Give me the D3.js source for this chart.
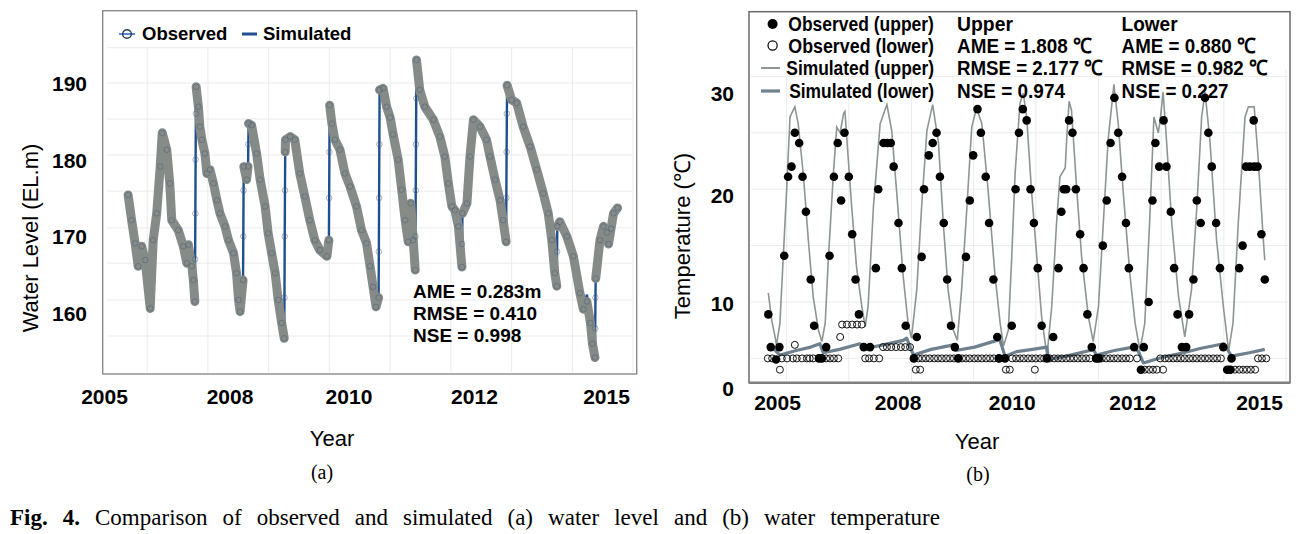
<!DOCTYPE html>
<html><head><meta charset="utf-8">
<script src="https://cdn.jsdelivr.net/npm/d3@7"></script>
<style>body{margin:0;background:#fff}svg{display:block}</style>
</head><body>
<svg id="c" width="1309" height="534"></svg>
<script>
// ---------------- DATA ----------------
const yearTickLabels = ["2005","2008","2010","2012","2015"];
const yearTickAt = [2005, 2007.5, 2009.87, 2012.37, 2015];

const levelTickLabels = ["190","180","170","160"];
const levelTickAt = [190, 180, 170, 160];
const levelGridY = [194.6, 190, 185.3, 180.6, 175.9, 171.1, 166.5, 161.7, 157.0];
const levelGridX = [2005.86, 2007.07, 2008.28, 2009.49, 2010.70, 2011.91, 2013.12, 2014.33, 2015.54];

const levelTime = [
 2005.48,2005.55,2005.62,2005.68,2005.75,2005.82,2005.92,2005.98,2006.05,2006.12,
 2006.16,2006.25,2006.31,2006.35,2006.48,2006.58,2006.65,2006.68,2006.75,2006.78,
 2006.81,2006.815,2006.82,2006.825,2006.83,2006.835,2006.88,2006.91,2006.95,2007.01,
 2007.05,2007.11,2007.18,2007.25,2007.31,2007.41,2007.48,2007.58,2007.64,2007.68,
 2007.71,2007.77,2007.775,2007.78,2007.785,2007.84,2007.87,2007.875,2007.88,2007.94,
 2008.04,2008.11,2008.21,2008.27,2008.34,2008.41,2008.47,2008.54,2008.59,2008.595,
 2008.60,2008.605,2008.61,2008.615,2008.71,2008.80,2008.90,2009.00,2009.10,2009.20,
 2009.30,2009.44,2009.48,2009.485,2009.49,2009.495,2009.54,2009.60,2009.70,2009.80,
 2009.90,2010.03,2010.13,2010.23,2010.30,2010.36,2010.42,2010.47,2010.475,2010.48,
 2010.485,2010.49,2010.56,2010.63,2010.70,2010.76,2010.86,2010.93,2011.00,2011.06,
 2011.11,2011.16,2011.20,2011.205,2011.21,2011.215,2011.22,2011.225,2011.29,2011.39,
 2011.56,2011.69,2011.79,2011.86,2011.93,2011.99,2012.06,2012.13,2012.135,2012.14,
 2012.23,2012.29,2012.36,2012.49,2012.62,2012.69,2012.79,2012.89,2012.95,2013.01,
 2013.015,2013.02,2013.025,2013.03,2013.12,2013.22,2013.35,2013.49,2013.62,2013.75,
 2013.85,2013.92,2013.98,2014.02,2014.025,2014.03,2014.08,2014.22,2014.35,2014.48,
 2014.55,2014.62,2014.69,2014.73,2014.78,2014.785,2014.79,2014.795,2014.88,2014.95,
 2015.02,2015.05,2015.10,2015.15,2015.23];
const levelObserved = [
 175.4,172.1,169.1,166.1,168.7,166.9,160.6,169.5,173.0,179.1,
 183.5,181.3,176.9,172.1,170.8,168.7,166.5,168.9,166.1,164.3,
 161.5,167.0,173.0,180.0,186.0,189.5,186.9,184.3,182.6,180.8,
 178.2,178.7,176.9,174.7,173.0,171.3,169.5,167.8,165.2,161.7,
 160.2,164.3,170.0,176.0,179.1,177.4,179.1,182.0,184.7,184.5,
 180.8,177.4,173.9,170.4,167.8,165.2,161.7,158.7,156.7,162.0,
 170.0,176.0,181.0,182.6,183.0,182.6,178.2,175.2,172.1,169.5,
 168.2,167.4,169.5,175.0,181.0,187.1,184.7,182.6,181.3,178.2,
 176.5,173.9,170.8,169.1,166.1,163.4,160.8,162.0,168.0,175.0,
 182.0,189.1,189.3,186.9,185.5,183.3,180.0,176.1,172.1,169.3,
 174.3,169.5,165.6,170.0,176.0,182.0,188.0,193.0,189.1,186.9,
 185.2,183.0,180.4,176.9,173.9,173.4,171.3,166.0,169.0,173.0,
 174.3,180.4,185.2,184.3,182.6,180.4,177.4,174.7,172.1,169.3,
 175.0,181.0,186.0,189.7,187.8,187.4,184.3,181.7,178.7,175.6,
 173.0,169.5,165.2,163.5,168.0,171.3,171.9,170.0,167.4,162.6,
 160.5,161.5,158.7,156.0,154.2,158.0,162.0,164.5,169.5,171.3,
 170.5,169.0,171.0,173.0,173.7];
const levelSimulated = [
 175.4,172.1,169.1,166.1,168.7,166.9,160.6,169.5,173.0,179.1,
 183.5,181.3,176.9,172.1,170.8,168.7,166.5,168.9,166.1,164.3,
 161.5,167.0,173.0,180.0,186.0,189.5,186.9,184.3,182.6,180.8,
 178.2,178.7,176.9,174.7,173.0,171.3,169.5,167.8,165.2,161.7,
 160.2,164.3,170.0,176.0,179.1,177.4,179.1,182.0,184.7,184.5,
 180.8,177.4,173.9,170.4,167.8,165.2,161.7,158.7,156.7,162.0,
 170.0,176.0,181.0,182.6,183.0,182.6,178.2,175.2,172.1,169.5,
 168.2,167.4,169.5,175.0,181.0,187.1,184.7,182.6,181.3,178.2,
 176.5,173.9,170.8,169.1,166.1,163.4,160.8,162.0,168.0,175.0,
 182.0,189.1,189.3,186.9,185.5,183.3,180.0,176.1,172.1,169.3,
 174.3,169.5,165.6,170.0,176.0,182.0,188.0,193.0,189.1,186.9,
 185.2,183.0,180.4,176.9,173.9,173.4,171.3,166.0,169.0,173.0,
 174.3,180.4,185.2,184.3,182.6,180.4,177.4,174.7,172.1,169.3,
 175.0,181.0,186.0,189.7,187.8,187.4,184.3,181.7,178.7,175.6,
 173.0,169.5,165.2,163.5,168.0,171.3,171.9,170.0,167.4,162.6,
 160.9,162.4,159.3,156.0,154.2,158.0,162.0,164.5,169.5,171.3,
 170.5,169.0,171.0,173.0,173.7];

const tempTickLabels = ["30","20","10","0"];
const tempTickAt = [28.53, 19.49, 9.91, 2.37];
const tempGridY = [5, 10, 15, 20, 25, 30];
const tempGridX = [2005.20, 2006.49, 2007.79, 2009.08, 2010.37, 2011.67, 2012.97, 2014.27, 2015.56];

const upperSimulated = [
 [2004.82,10.8],[2004.89,8.4],[2004.96,6.9],[2004.99,6.2],[2005.06,8.1],[2005.13,14.0],[2005.20,19.9],[2005.27,26.4],[2005.37,27.3],[2005.44,25.8],
 [2005.55,21.1],[2005.65,15.5],[2005.75,10.5],[2005.86,7.5],[2005.93,6.5],[2006.00,8.1],[2006.06,13.4],[2006.17,21.4],[2006.24,25.5],[2006.31,25.0],
 [2006.38,26.7],[2006.41,26.9],[2006.45,24.4],[2006.55,18.4],[2006.65,13.1],[2006.76,9.6],[2006.83,7.8],[2006.89,9.6],[2007.00,18.4],[2007.14,25.8],
 [2007.28,27.5],[2007.38,25.2],[2007.48,19.9],[2007.62,12.2],[2007.72,8.1],[2007.79,6.8],[2007.90,11.1],[2008.00,18.4],[2008.11,25.2],[2008.23,27.5],
 [2008.35,24.1],[2008.45,17.0],[2008.55,11.1],[2008.66,7.5],[2008.74,6.6],[2008.83,11.1],[2008.94,18.4],[2009.04,25.5],[2009.14,27.2],[2009.25,25.8],
 [2009.38,19.9],[2009.52,12.5],[2009.63,8.1],[2009.70,6.1],[2009.80,7.5],[2009.87,14.0],[2009.94,21.4],[2010.04,27.6],[2010.11,28.5],[2010.18,26.4],
 [2010.28,19.9],[2010.39,14.0],[2010.49,8.7],[2010.60,5.2],[2010.70,9.6],[2010.80,17.0],[2010.87,21.1],[2010.98,21.9],[2011.01,24.4],[2011.06,27.8],
 [2011.11,27.0],[2011.22,19.9],[2011.32,14.0],[2011.46,8.7],[2011.56,6.5],[2011.67,9.6],[2011.77,17.0],[2011.87,24.4],[2011.99,29.3],[2012.08,25.8],
 [2012.18,19.9],[2012.32,12.5],[2012.43,8.1],[2012.53,5.7],[2012.63,8.1],[2012.73,17.0],[2012.82,26.4],[2012.91,25.0],[2012.95,26.1],[2013.01,28.6],
 [2013.08,24.4],[2013.19,17.0],[2013.33,10.5],[2013.46,6.9],[2013.60,11.1],[2013.71,18.4],[2013.81,26.4],[2013.88,28.6],[2013.98,24.4],[2014.12,15.5],
 [2014.26,9.6],[2014.37,5.7],[2014.46,8.1],[2014.57,17.0],[2014.71,26.4],[2014.78,27.3],[2014.90,27.3],[2014.98,22.9],[2015.09,15.5],[2015.12,13.7]];

const lowerSimulated = [
 [2004.82,6.2],[2004.92,5.9],[2005.06,5.3],[2005.40,5.7],[2005.70,6.0],[2005.89,6.3],[2005.96,5.5],[2006.30,5.8],[2006.72,6.3],[2006.79,6.0],
 [2006.86,5.9],[2007.20,6.2],[2007.62,6.6],[2007.69,6.8],[2007.83,5.3],[2008.20,5.8],[2008.66,6.2],[2008.71,5.7],[2009.10,6.0],[2009.56,6.6],
 [2009.62,6.7],[2009.73,5.2],[2009.97,5.6],[2010.30,5.8],[2010.60,6.0],[2010.63,4.9],[2011.00,5.2],[2011.49,5.7],[2011.56,5.8],[2011.63,5.3],
 [2012.00,5.7],[2012.39,6.0],[2012.50,5.6],[2012.60,4.6],[2013.00,5.1],[2013.43,5.5],[2013.80,5.9],[2014.27,6.3],[2014.33,5.9],[2014.43,5.2],
 [2014.80,5.5],[2015.12,5.8]];

const upperObserved = [
 [2004.82,8.9],[2004.87,6.0],[2004.98,4.9],[2005.05,6.0],[2005.15,14.1],[2005.23,21.1],[2005.30,22.0],[2005.37,25.0],[2005.46,24.1],[2005.53,21.1],
 [2005.60,18.0],[2005.70,12.0],[2005.77,7.9],[2005.87,5.0],[2005.93,5.0],[2006.02,6.0],[2006.09,14.1],[2006.18,21.1],[2006.26,24.1],[2006.33,19.0],
 [2006.40,25.0],[2006.49,21.1],[2006.56,16.0],[2006.63,12.0],[2006.70,8.9],[2006.80,6.0],[2006.93,6.0],[2007.05,13.0],[2007.10,20.0],[2007.21,24.1],
 [2007.29,24.1],[2007.36,24.1],[2007.42,22.0],[2007.52,17.0],[2007.59,13.0],[2007.67,7.9],[2007.84,5.0],[2007.90,6.9],[2008.00,14.0],[2008.05,20.0],
 [2008.15,23.0],[2008.23,24.1],[2008.31,25.0],[2008.38,21.1],[2008.46,17.0],[2008.53,12.0],[2008.61,7.9],[2008.69,6.0],[2008.76,5.0],[2008.92,14.0],
 [2009.00,19.0],[2009.07,23.0],[2009.16,27.1],[2009.23,25.0],[2009.33,21.1],[2009.40,17.0],[2009.49,12.0],[2009.57,6.9],[2009.61,5.0],[2009.73,5.0],
 [2009.87,7.9],[2009.95,20.0],[2010.02,25.0],[2010.10,27.1],[2010.18,26.1],[2010.26,20.0],[2010.33,17.0],[2010.41,13.0],[2010.49,7.9],[2010.60,5.0],
 [2010.73,6.9],[2010.84,13.0],[2010.90,18.0],[2010.95,20.0],[2011.00,20.0],[2011.06,26.1],[2011.13,25.0],[2011.20,20.0],[2011.29,16.0],[2011.36,13.0],
 [2011.44,8.9],[2011.53,6.0],[2011.62,5.0],[2011.68,5.0],[2011.76,15.0],[2011.84,19.0],[2011.92,24.1],[2012.00,28.1],[2012.08,25.0],[2012.16,21.1],
 [2012.24,17.0],[2012.30,13.0],[2012.41,6.0],[2012.55,4.0],[2012.61,6.0],[2012.71,10.0],[2012.79,19.0],[2012.85,24.1],[2012.93,22.0],[2013.02,26.1],
 [2013.08,22.0],[2013.17,18.0],[2013.24,13.0],[2013.31,8.9],[2013.40,6.0],[2013.49,6.0],[2013.55,8.9],[2013.64,12.0],[2013.71,19.0],[2013.79,17.0],
 [2013.88,28.1],[2013.95,25.0],[2014.02,22.0],[2014.11,17.0],[2014.19,13.0],[2014.26,6.0],[2014.34,4.0],[2014.40,4.0],[2014.43,5.0],[2014.59,13.0],
 [2014.66,15.0],[2014.73,22.0],[2014.81,22.0],[2014.89,26.1],[2014.90,22.0],[2014.97,22.0],[2015.05,16.0],[2015.12,12.0]];

const lowerObserved = [
 [2004.81,5.0],[2004.90,5.0],[2005.06,4.0],[2005.10,5.0],[2005.21,5.0],[2005.33,5.0],[2005.37,6.2],[2005.41,5.0],[2005.52,5.0],[2005.62,5.0],
 [2005.68,5.0],[2005.75,5.0],[2006.02,5.0],[2006.10,5.0],[2006.18,5.0],[2006.27,5.0],[2006.31,6.9],[2006.35,8.0],[2006.45,8.0],[2006.56,8.0],
 [2006.66,8.0],[2006.76,8.0],[2006.83,5.0],[2006.91,5.0],[2007.01,5.0],[2007.12,5.0],[2007.20,6.0],[2007.28,6.0],[2007.37,6.0],[2007.47,6.0],
 [2007.57,6.0],[2007.66,6.0],[2007.76,6.0],[2007.88,4.0],[2007.97,4.0],[2007.93,5.0],[2008.01,5.0],[2008.09,5.0],[2008.17,5.0],[2008.26,5.0],
 [2008.34,5.0],[2008.42,5.0],[2008.51,5.0],[2008.59,5.0],[2008.67,5.0],[2008.84,5.0],[2008.92,5.0],[2009.00,5.0],[2009.09,5.0],[2009.17,5.0],
 [2009.25,5.0],[2009.34,5.0],[2009.42,5.0],[2009.50,5.0],[2009.59,5.0],[2009.75,4.0],[2009.83,4.0],[2009.88,5.0],[2009.96,5.0],[2010.04,5.0],
 [2010.12,5.0],[2010.21,5.0],[2010.29,5.0],[2010.35,4.0],[2010.37,5.0],[2010.46,5.0],[2010.54,5.0],[2010.66,5.0],[2010.75,5.0],[2010.83,5.0],
 [2010.91,5.0],[2011.00,5.0],[2011.08,5.0],[2011.16,5.0],[2011.24,5.0],[2011.33,5.0],[2011.41,5.0],[2011.49,5.0],[2011.74,5.0],[2011.83,5.0],
 [2011.91,5.0],[2011.99,5.0],[2012.07,5.0],[2012.16,5.0],[2012.24,5.0],[2012.32,5.0],[2012.47,5.0],[2012.63,4.0],[2012.72,4.0],[2012.80,4.0],
 [2012.88,4.0],[2013.01,4.0],[2012.95,5.0],[2013.05,5.0],[2013.13,5.0],[2013.22,5.0],[2013.30,5.0],[2013.38,5.0],[2013.46,5.0],[2013.55,5.0],
 [2013.63,5.0],[2013.71,5.0],[2013.80,5.0],[2013.88,5.0],[2013.96,5.0],[2014.05,5.0],[2014.13,5.0],[2014.21,5.0],[2014.42,4.0],[2014.50,4.0],
 [2014.59,4.0],[2014.67,4.0],[2014.75,4.0],[2014.83,4.0],[2014.92,4.0],[2014.98,5.0],[2015.06,5.0],[2015.15,5.0]];

const levelStats = ["AME = 0.283m", "RMSE = 0.410", "NSE = 0.998"];
const upperStats = ["Upper", "AME = 1.808 ℃", "RMSE = 2.177 ℃", "NSE = 0.974"];
const lowerStats = ["Lower", "AME = 0.880 ℃", "RMSE = 0.982 ℃", "NSE = 0.227"];
const tempLegend = ["Observed (upper)", "Observed  (lower)", "Simulated (upper)", "Simulated  (lower)"];

// ---------------- DRAW ----------------
const svg = d3.select("#c");
const SANS = "'Liberation Sans', Arial, Helvetica, sans-serif";
const SERIF = "'Liberation Serif', 'Times New Roman', serif";

function label(g, x, y, s, size, weight, anchor) {
  return g.append("text").attr("x", x).attr("y", y).attr("dy", "0.35em")
    .attr("text-anchor", anchor || "start")
    .style("font-family", SANS).style("font-size", size + "px")
    .style("font-weight", weight || "normal").attr("fill", "#000").text(s);
}
// horizontally condensed text: scale glyphs so the text spans exactly w px
function narrow(g, x, y, s, size, w) {
  const t = label(g, 0, 0, s, size, "bold");
  const nat = t.node().getComputedTextLength();
  t.attr("transform", `translate(${x},${y}) scale(${w / nat},1)`);
  return t;
}

// ===== LEFT PANEL =====
const xL = d3.scaleLinear().domain([2005, 2015]).range([104, 606]);
const yL = d3.scaleLinear().domain([160, 190]).range([313, 83]);
const gL = svg.append("g");

gL.selectAll("line.hg").data(levelGridY).join("line").attr("class", "hg")
  .attr("x1", 107).attr("x2", 633).attr("y1", d => yL(d)).attr("y2", d => yL(d))
  .attr("stroke", "#ebebeb").attr("stroke-width", 1);
gL.selectAll("line.vg").data(levelGridX).join("line").attr("class", "vg")
  .attr("x1", d => xL(d)).attr("x2", d => xL(d)).attr("y1", yL(194.6)).attr("y2", 372)
  .attr("stroke", "#ebebeb").attr("stroke-width", 1);

const lvl = levelTime.map((t, i) => ({ t, o: levelObserved[i], s: levelSimulated[i] }));
gL.append("path").datum(lvl)
  .attr("d", d3.line().x(d => xL(d.t)).y(d => yL(d.s)))
  .attr("fill", "none").attr("stroke", "#1f4f8f").attr("stroke-width", 2.4);
const segs = []; let cur = [lvl[0]];
for (let i = 1; i < lvl.length; i++) {
  const a = lvl[i - 1], b = lvl[i];
  if (Math.abs(b.o - a.o) / (b.t - a.t) > 400) { segs.push(cur); cur = [b]; } else cur.push(b);
}
segs.push(cur);
gL.selectAll("path.band").data(segs.filter(s => s.length > 1)).join("path").attr("class", "band")
  .attr("d", d3.line().x(d => xL(d.t)).y(d => yL(d.o)))
  .attr("fill", "none").attr("stroke", "#868b88").attr("stroke-width", 9)
  .attr("stroke-linejoin", "round").attr("stroke-linecap", "round");
gL.selectAll("circle.ob").data(lvl).join("circle").attr("class", "ob")
  .attr("cx", d => xL(d.t)).attr("cy", d => yL(d.o)).attr("r", 2.8)
  .attr("fill", "none").attr("stroke", "#3d5672").attr("stroke-width", 0.8).attr("opacity", 0.55);

gL.append("rect").attr("x", 102.7).attr("y", 10.7).attr("width", 534).attr("height", 363.3)
  .attr("fill", "none").attr("stroke", "#8a8a8a").attr("stroke-width", 1.4);

const axLx = svg.append("g").attr("transform", "translate(0,374)")
  .call(d3.axisBottom(xL).tickValues(yearTickAt).tickFormat((d, i) => yearTickLabels[i]).tickSize(0));
axLx.select(".domain").remove();
axLx.selectAll("text").attr("y", 23).attr("dy", "0.35em")
  .style("font-family", SANS).style("font-size", "21px").style("font-weight", "bold").attr("fill", "#000");
const axLy = svg.append("g").attr("transform", "translate(87,0)")
  .call(d3.axisLeft(yL).tickValues(levelTickAt).tickFormat((d, i) => levelTickLabels[i]).tickSize(0).tickPadding(0));
axLy.select(".domain").remove();
axLy.selectAll("text").attr("dy", "0.35em")
  .style("font-family", SANS).style("font-size", "21px").style("font-weight", "bold").attr("fill", "#000");

label(svg, 332, 438, "Year", 22, "normal", "middle");
svg.append("text").attr("transform", "translate(30,238) rotate(-90)").attr("dy", "0.35em")
  .attr("text-anchor", "middle").style("font-family", SANS).style("font-size", "22px")
  .text("Water Level (EL.m)");

svg.append("line").attr("x1", 119).attr("x2", 135).attr("y1", 34).attr("y2", 34)
  .attr("stroke", "#5b8ad6").attr("stroke-width", 2);
svg.append("circle").attr("cx", 127).attr("cy", 34).attr("r", 4.3)
  .attr("fill", "none").attr("stroke", "#2a3a50").attr("stroke-width", 1.4);
label(svg, 142, 34, "Observed", 18.5, "bold");
svg.append("line").attr("x1", 242).attr("x2", 257).attr("y1", 34).attr("y2", 34)
  .attr("stroke", "#1f4f8f").attr("stroke-width", 3);
label(svg, 263, 34, "Simulated", 18.5, "bold");

levelStats.forEach((s, i) => label(svg, 413, 291.7 + i * 21.7, s, 19, "bold"));

// ===== RIGHT PANEL =====
const xR = d3.scaleLinear().domain([2005, 2015]).range([777, 1259]);
const yR = d3.scaleLinear().domain([5, 30]).range([358.4, 76.4]);
const gR = svg.append("g");
gR.selectAll("line.hg").data(tempGridY).join("line").attr("class", "hg")
  .attr("x1", 751).attr("x2", 1288).attr("y1", d => yR(d)).attr("y2", d => yR(d))
  .attr("stroke", "#ececec").attr("stroke-width", 1);
gR.selectAll("line.vg").data(tempGridX).join("line").attr("class", "vg")
  .attr("x1", d => xR(d)).attr("x2", d => xR(d)).attr("y1", 70).attr("y2", 381)
  .attr("stroke", "#ececec").attr("stroke-width", 1);

const lineR = d3.line().x(d => xR(d[0])).y(d => yR(d[1]));
gR.append("path").datum(upperSimulated).attr("d", lineR)
  .attr("fill", "none").attr("stroke", "#8d9693").attr("stroke-width", 1.6);
gR.append("path").datum(lowerSimulated).attr("d", lineR)
  .attr("fill", "none").attr("stroke", "#6f808f").attr("stroke-width", 3.2).attr("stroke-linejoin", "round");
gR.selectAll("circle.lo").data(lowerObserved).join("circle").attr("class", "lo")
  .attr("cx", d => xR(d[0])).attr("cy", d => yR(d[1])).attr("r", 3.5)
  .attr("fill", "none").attr("stroke", "#111").attr("stroke-width", 1);
gR.selectAll("circle.up").data(upperObserved).join("circle").attr("class", "up")
  .attr("cx", d => xR(d[0])).attr("cy", d => yR(d[1])).attr("r", 4.3).attr("fill", "#000");

gR.append("rect").attr("x", 749).attr("y", 11.7).attr("width", 541).attr("height", 371)
  .attr("fill", "none").attr("stroke", "#6a6a6a").attr("stroke-width", 1.5);
gR.append("line").attr("x1", 749).attr("x2", 1290).attr("y1", 382.7).attr("y2", 382.7)
  .attr("stroke", "#808080").attr("stroke-width", 2.4);

const axRx = svg.append("g").attr("transform", "translate(0,383)")
  .call(d3.axisBottom(xR).tickValues(yearTickAt).tickFormat((d, i) => yearTickLabels[i]).tickSize(0));
axRx.select(".domain").remove();
axRx.selectAll("text").attr("y", 20).attr("dy", "0.35em")
  .style("font-family", SANS).style("font-size", "21px").style("font-weight", "bold").attr("fill", "#000");
const axRy = svg.append("g").attr("transform", "translate(734,0)")
  .call(d3.axisLeft(yR).tickValues(tempTickAt).tickFormat((d, i) => tempTickLabels[i]).tickSize(0).tickPadding(0));
axRy.select(".domain").remove();
axRy.selectAll("text").attr("dy", "0.35em")
  .style("font-family", SANS).style("font-size", "21px").style("font-weight", "bold").attr("fill", "#000");

label(svg, 977, 441, "Year", 22, "normal", "middle");
svg.append("text").attr("transform", "translate(682,236) rotate(-90)").attr("dy", "0.35em")
  .attr("text-anchor", "middle").style("font-family", SANS).style("font-size", "22px")
  .text("Temperature (℃)");

const rowY = [24, 45.5, 68, 91];
svg.append("circle").attr("cx", 772.6).attr("cy", rowY[0]).attr("r", 5).attr("fill", "#000");
svg.append("circle").attr("cx", 772.6).attr("cy", rowY[1]).attr("r", 4.6).attr("fill", "none")
  .attr("stroke", "#000").attr("stroke-width", 1.2);
svg.append("line").attr("x1", 761).attr("x2", 780).attr("y1", rowY[2]).attr("y2", rowY[2])
  .attr("stroke", "#8d9693").attr("stroke-width", 2);
svg.append("line").attr("x1", 761).attr("x2", 780).attr("y1", rowY[3]).attr("y2", rowY[3])
  .attr("stroke", "#6f808f").attr("stroke-width", 3.2);
const legX = [788.3, 788.3, 786.3, 789.2];
tempLegend.forEach((s, i) => narrow(svg, legX[i], rowY[i], s, 21, 934 - legX[i]));

const upW = [56, 135, 146, 108], loW = [56, 134, 146, 107];
upperStats.forEach((s, i) => narrow(svg, 957, rowY[i], s, 21, upW[i]));
lowerStats.forEach((s, i) => narrow(svg, 1121.6, rowY[i], s, 21, loW[i]));

// ===== captions =====
svg.append("text").attr("x", 322).attr("y", 472).attr("dy", "0.35em").attr("text-anchor", "middle")
  .style("font-family", SERIF).style("font-size", "20px").text("(a)");
svg.append("text").attr("x", 978).attr("y", 474).attr("dy", "0.35em").attr("text-anchor", "middle")
  .style("font-family", SERIF).style("font-size", "20px").text("(b)");
const cap = svg.append("text").attr("x", 10).attr("y", 525)
  .style("font-family", SERIF).style("font-size", "23px").attr("fill", "#000");
cap.append("tspan").style("font-weight", "bold").text("Fig. 4.");
cap.append("tspan").text(" Comparison of observed and simulated (a) water level and (b) water temperature");
const nat = cap.node().getComputedTextLength();
cap.style("word-spacing", Math.max(0, (930 - nat) / 13) + "px");
</script>
</body></html>
